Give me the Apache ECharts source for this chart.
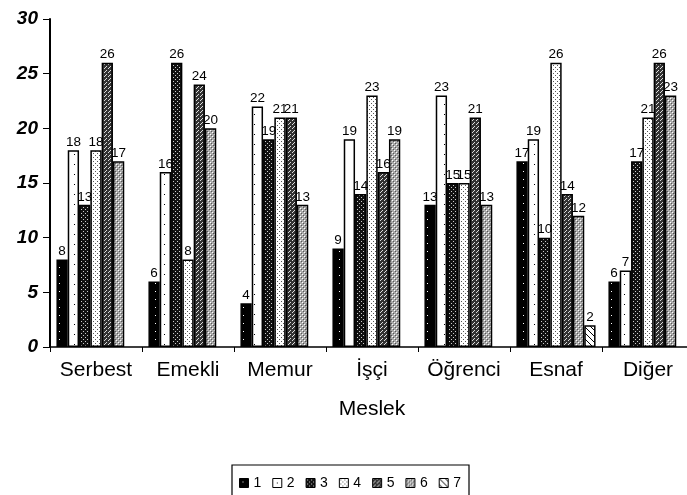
<!DOCTYPE html>
<html><head><meta charset="utf-8">
<script src="https://cdn.jsdelivr.net/npm/echarts@6/dist/echarts.min.js"></script>
<style>html,body{margin:0;padding:0;background:#fff}#c{width:687px;height:495px}</style>
</head><body><div id="c"></div>
<script>
const categories = ['Serbest','Emekli','Memur','İşçi','Öğrenci','Esnaf','Diğer'];
const seriesNames = ['1','2','3','4','5','6','7'];
const s1 = [8, 6, 4, 9, 13, 17, 6];
const s2 = [18, 16, 22, 19, 23, 19, 7];
const s3 = [13, 26, 19, 14, 15, 10, 17];
const s4 = [18, 8, 21, 23, 15, 26, 21];
const s5 = [26, 24, 21, 16, 21, 14, 26];
const s6 = [17, 20, 13, 19, 13, 12, 23];
const s7 = [null, null, null, null, null, 2, null];
const yTicks = [0, 5, 10, 15, 20, 25, 30];

function pat(size, draw){
  const c = document.createElement('canvas'); c.width = size; c.height = size;
  const g = c.getContext('2d'); draw(g, size);
  return {image: c, repeat: 'repeat'};
}
const patterns = [
  pat(8,(g,s)=>{g.fillStyle='#000';g.fillRect(0,0,s,s);g.fillStyle='#fff';g.fillRect(3,3,1,1);}),
  pat(10,(g,s)=>{g.fillStyle='#fff';g.fillRect(0,0,s,s);g.fillStyle='#000';g.fillRect(4,4,1,1);}),
  pat(4,(g,s)=>{g.fillStyle='#111';g.fillRect(0,0,s,s);g.fillStyle='#ccc';g.fillRect(1,1,1,1);g.fillRect(3,3,1,1);}),
  pat(4,(g,s)=>{g.fillStyle='#fff';g.fillRect(0,0,s,s);g.fillStyle='#555';g.fillRect(1,1,1,1);g.fillRect(3,3,1,1);}),
  pat(4,(g,s)=>{g.fillStyle='#333';g.fillRect(0,0,s,s);g.fillStyle='#ddd';g.fillRect(0,0,1,1);g.fillRect(2,2,1,1);g.fillRect(1,3,1,1);}),
  pat(4,(g,s)=>{g.fillStyle='#aaa';g.fillRect(0,0,s,s);g.fillStyle='#fff';g.fillRect(0,0,1,1);g.fillRect(2,2,1,1);g.fillStyle='#555';g.fillRect(1,1,1,1);g.fillRect(3,3,1,1);}),
  pat(6,(g,s)=>{g.fillStyle='#fff';g.fillRect(0,0,s,s);g.strokeStyle='#000';g.lineWidth=1;g.beginPath();g.moveTo(0,0);g.lineTo(s,s);g.stroke();})
];
const data = [s1,s2,s3,s4,s5,s6,s7];
const chart = echarts.init(document.getElementById('c'), null, {renderer:'canvas'});
chart.setOption({
  animation: false,
  backgroundColor: '#fff',
  textStyle: {fontFamily: 'Liberation Sans, Arial, sans-serif'},
  grid: {left: 50, right: -7, top: 19, bottom: 148, containLabel: false, outerBoundsMode: 'none'},
  legend: {
    top: 465, left: 232, itemWidth: 9, itemHeight: 9, itemGap: 11,
    borderColor: '#000', borderWidth: 1.2, padding: [11, 8, 12, 7],
    textStyle: {fontSize: 14, color: '#000'},
    data: seriesNames.map(n => ({name: n, icon: 'rect', itemStyle: {borderColor: '#000', borderWidth: 1}}))
  },
  xAxis: {
    type: 'category', data: categories,
    name: 'Meslek', nameLocation: 'middle', nameGap: 52,
    nameTextStyle: {fontSize: 21, color: '#000'},
    axisLine: {lineStyle: {color: '#000', width: 1.5}},
    axisTick: {show: true, length: 5, lineStyle: {color: '#000'}},
    axisLabel: {fontSize: 21, color: '#000', margin: 13, interval: 0, hideOverlap: false}
  },
  yAxis: {
    type: 'value', min: yTicks[0], max: yTicks[yTicks.length-1], interval: 5,
    splitLine: {show: false},
    axisLine: {show: true, lineStyle: {color: '#000', width: 2}},
    axisTick: {show: true, length: 7, lineStyle: {color: '#000'}},
    axisLabel: {fontSize: 19, fontWeight: 'bold', fontStyle: 'italic', color: '#000', margin: 12}
  },
  series: data.map((d, i) => ({
    name: seriesNames[i], type: 'bar', data: d,
    barGap: '0%', barCategoryGap: '14%',
    itemStyle: {color: patterns[i], borderColor: '#000', borderWidth: 1.5},
    label: {show: true, position: 'top', distance: 1, fontSize: 13.5, color: '#000'}
  }))
});
</script></body></html>
